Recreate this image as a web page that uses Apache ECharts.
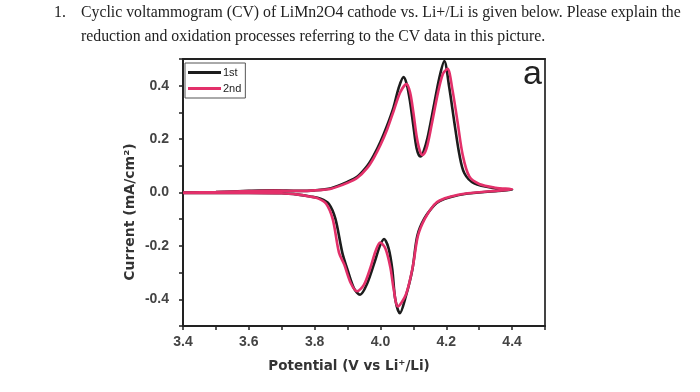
<!DOCTYPE html>
<html>
<head>
<meta charset="utf-8">
<script src="https://cdn.jsdelivr.net/npm/echarts@6/dist/echarts.min.js"></script>
<style>
html,body{margin:0;padding:0;background:#fff;}
#chart{width:700px;height:392px;}
</style>
</head>
<body>
<div id="chart"></div>
<script>
// ---- data ----
const seriesNames = ['1st', '2nd'];
const xTickLabels = [3.4, 3.6, 3.8, 4.0, 4.2, 4.4];
const yTickLabels = [-0.4, -0.2, 0.0, 0.2, 0.4];

// 1st cycle: anodic sweep 3.4 -> 4.4 V, then cathodic sweep back to 3.4 V
const cv1Potential = [
  3.40, 3.50, 3.60, 3.68, 3.75, 3.80, 3.85, 3.90, 3.93, 3.96, 3.98, 4.00, 4.02, 4.04, 4.055, 4.07,
  4.08, 4.09, 4.10, 4.11, 4.121, 4.13, 4.143, 4.163, 4.179, 4.194, 4.209, 4.224, 4.24, 4.255, 4.285, 4.35, 4.40,
  4.35, 4.30, 4.265, 4.214, 4.18, 4.163, 4.133, 4.112, 4.097, 4.077, 4.059, 4.045, 4.036, 4.025, 4.011,
  3.998, 3.985, 3.96, 3.938, 3.92, 3.90, 3.884, 3.863, 3.843, 3.818, 3.787, 3.75, 3.70, 3.60, 3.50, 3.40
];
const cv1Current = [
  0.000, 0.002, 0.006, 0.008, 0.006, 0.008, 0.016, 0.040, 0.060, 0.100, 0.140, 0.190, 0.250, 0.320, 0.390, 0.432,
  0.405, 0.340, 0.250, 0.165, 0.135, 0.150, 0.205, 0.330, 0.430, 0.492, 0.394, 0.267, 0.141, 0.072, 0.034, 0.015, 0.010,
  0.005, 0.000, -0.004, -0.017, -0.032, -0.048, -0.098, -0.162, -0.288, -0.389, -0.452, -0.400, -0.288, -0.210, -0.174,
  -0.200, -0.250, -0.340, -0.383, -0.360, -0.290, -0.225, -0.098, -0.042, -0.023, -0.015, -0.008, -0.003, -0.002, -0.002, -0.002
];

// 2nd cycle
const cv2Potential = [
  3.40, 3.50, 3.60, 3.68, 3.75, 3.80, 3.85, 3.90, 3.93, 3.96, 3.98, 4.00, 4.02, 4.04, 4.06, 4.079,
  4.09, 4.10, 4.11, 4.12, 4.128, 4.14, 4.155, 4.175, 4.19, 4.204, 4.218, 4.234, 4.25, 4.27, 4.30, 4.35, 4.40,
  4.35, 4.30, 4.265, 4.214, 4.18, 4.163, 4.135, 4.114, 4.098, 4.078, 4.053, 4.04, 4.03, 4.015, 3.999,
  3.985, 3.97, 3.95, 3.929, 3.91, 3.89, 3.874, 3.855, 3.835, 3.81, 3.78, 3.75, 3.70, 3.60, 3.50, 3.40
];
const cv2Current = [
  0.000, 0.002, 0.005, 0.007, 0.006, 0.008, 0.014, 0.036, 0.055, 0.092, 0.130, 0.178, 0.235, 0.305, 0.375, 0.406,
  0.375, 0.300, 0.210, 0.155, 0.140, 0.165, 0.250, 0.375, 0.445, 0.463, 0.390, 0.267, 0.140, 0.060, 0.032, 0.018, 0.012,
  0.006, 0.001, -0.003, -0.015, -0.030, -0.046, -0.098, -0.162, -0.280, -0.380, -0.427, -0.360, -0.280, -0.210, -0.187,
  -0.220, -0.280, -0.345, -0.370, -0.340, -0.270, -0.225, -0.100, -0.042, -0.022, -0.014, -0.008, -0.003, -0.002, -0.002, -0.002
];

const pairs = (xs, ys) => xs.map((x, i) => [x, ys[i]]);

const chart = echarts.init(document.getElementById('chart'), null, {renderer: 'canvas'});
const frameColor = '#222';
const labelStyle = {fontFamily: 'Liberation Sans', fontWeight: 'bold', fontSize: 14, color: '#444'};

chart.setOption({
  animation: false,
  backgroundColor: '#fff',
  grid: {left: 183, right: 155, top: 59, bottom: 66},
  legend: {
    data: seriesNames,
    orient: 'vertical',
    left: 185, top: 63,
    icon: 'rect',
    itemWidth: 33, itemHeight: 3, itemGap: 5,
    padding: [4, 4, 4, 3],
    borderColor: '#555', borderWidth: 1,
    textStyle: {fontFamily: 'Liberation Sans', fontSize: 11, color: '#222', padding: [0, 0, 0, -3]}
  },
  xAxis: [{
    type: 'value', min: 3.4, max: 4.5, interval: 0.1,
    axisLine: {show: true, onZero: false, lineStyle: {color: frameColor, width: 2}},
    axisTick: {show: true, length: 4, lineStyle: {color: frameColor, width: 1.5}},
    axisLabel: Object.assign({customValues: xTickLabels, margin: 9, formatter: v => v.toFixed(1)}, labelStyle),
    splitLine: {show: false}
  }, {
    type: 'value', position: 'top', min: 3.4, max: 4.5,
    axisLine: {show: true, onZero: false, lineStyle: {color: frameColor, width: 2}},
    axisTick: {show: false}, axisLabel: {show: false}, splitLine: {show: false}
  }],
  yAxis: [{
    type: 'value', min: -0.5, max: 0.5, interval: 0.1,
    axisLine: {show: true, onZero: false, lineStyle: {color: frameColor, width: 2}},
    axisTick: {show: true, length: 4, lineStyle: {color: frameColor, width: 1.5}},
    axisLabel: Object.assign({customValues: yTickLabels, margin: 14, formatter: v => v.toFixed(1)}, labelStyle),
    splitLine: {show: false}
  }, {
    type: 'value', position: 'right', min: -0.5, max: 0.5,
    axisLine: {show: true, onZero: false, lineStyle: {color: '#444', width: 2}},
    axisTick: {show: false}, axisLabel: {show: false}, splitLine: {show: false}
  }],
  series: [{
    name: seriesNames[0], type: 'line', showSymbol: false, smooth: 0.3,
    data: pairs(cv1Potential, cv1Current),
    lineStyle: {color: '#1c1c1c', width: 2.6},
    itemStyle: {color: '#1c1c1c'}
  }, {
    name: seriesNames[1], type: 'line', showSymbol: false, smooth: 0.3,
    data: pairs(cv2Potential, cv2Current),
    lineStyle: {color: '#e3306a', width: 2.6},
    itemStyle: {color: '#e3306a'}
  }],
  graphic: [
    {type: 'text', left: 54, top: 5, style: {text: '1.', font: '15.8px "Liberation Serif"', fill: '#222'}},
    {type: 'text', left: 81, top: 5, style: {text: 'Cyclic voltammogram (CV) of LiMn2O4 cathode vs. Li+/Li is given below. Please explain the', font: '15.8px "Liberation Serif"', fill: '#222'}},
    {type: 'text', left: 81, top: 29, style: {text: 'reduction and oxidation processes referring to the CV data in this picture.', font: '15.8px "Liberation Serif"', fill: '#222'}},
    {type: 'text', x: 542, y: 92, style: {text: 'a', font: '34px "Liberation Sans"', fill: '#222', align: 'right', verticalAlign: 'bottom'}},
    {type: 'text', x: 130, y: 212, rotation: Math.PI / 2, style: {text: 'Current (mA/cm²)', font: 'bold 14px "DejaVu Sans"', fill: '#333', align: 'center', verticalAlign: 'middle'}},
    {type: 'text', x: 349, y: 366, style: {text: 'Potential (V vs Li⁺/Li)', font: 'bold 13.5px "DejaVu Sans"', fill: '#333', align: 'center', verticalAlign: 'middle'}}
  ]
});
</script>
</body>
</html>
